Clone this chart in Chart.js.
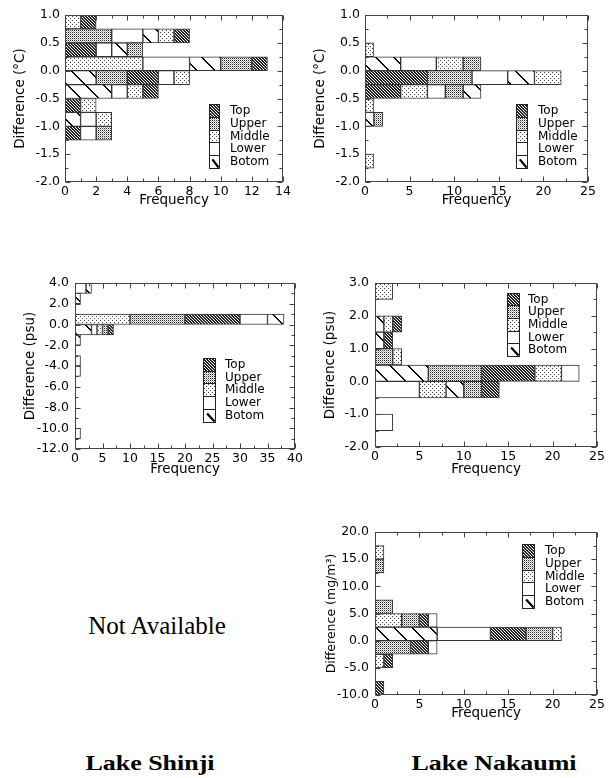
<!DOCTYPE html>
<html><head><meta charset="utf-8">
<script src="https://cdn.jsdelivr.net/npm/chart.js@4.4.1/dist/chart.umd.min.js"></script>
<style>
html,body{margin:0;padding:0;background:#fff;}
body{width:611px;height:778px;position:relative;overflow:hidden;}
canvas{position:absolute;}
.lbl{position:absolute;font-family:"Liberation Serif","Times New Roman",serif;color:#000;white-space:nowrap;}
</style></head><body>
<canvas id="c1" width="300" height="215" style="left:0;top:0;width:300px;height:215px"></canvas>
<canvas id="c2" width="311" height="215" style="left:300px;top:0;width:311px;height:215px"></canvas>
<canvas id="c3" width="320" height="240" style="left:0;top:240px;width:320px;height:240px"></canvas>
<canvas id="c4" width="311" height="240" style="left:300px;top:240px;width:311px;height:240px"></canvas>
<canvas id="c5" width="311" height="245" style="left:300px;top:480px;width:311px;height:245px"></canvas>
<div class="lbl" id="na" style="left:157px;top:626px;font-size:25px;transform:translate(-50%,-50%)">Not Available</div>
<div class="lbl" style="left:150px;top:763px;font-size:22px;font-weight:bold;transform:translate(-50%,-50%) scaleX(1.18)">Lake Shinji</div>
<div class="lbl" style="left:494px;top:763px;font-size:22px;font-weight:bold;transform:translate(-50%,-50%) scaleX(1.18)">Lake Nakaumi</div>
<script>
// ---------- layer names ----------
const layerNames = ['Top', 'Upper', 'Middle', 'Lower', 'Botom'];
const layerKeys  = ['T', 'U', 'M', 'L', 'B'];

// ---------- Panel 1: Temperature, Lake Shinji (bins from top) ----------
const tempShinjiBins = ['0.75–1.00','0.50–0.75','0.25–0.50','0.00–0.25','-0.25–0.00','-0.50–-0.25','-0.75–-0.50','-1.00–-0.75','-1.25–-1.00','-1.50–-1.25','-1.75–-1.50','-2.00–-1.75'];
const tempShinjiTop    = [1,1,2,1,2,1,1,0,1,0,0,0];
const tempShinjiUpper  = [0,3,1,2,2,0,0,0,1,0,0,0];
const tempShinjiMiddle = [1,1,0,5,1,1,1,1,0,0,0,0];
const tempShinjiLower  = [0,2,1,3,1,1,0,1,1,0,0,0];
const tempShinjiBotom  = [0,1,1,2,2,3,0,1,0,0,0,0];
const tempShinjiOrder  = ['MT','ULBMT','TLBU','MLBUT','BUTLM','BLMT','TM','BLM','TLU','','',''];

// ---------- Panel 2: Temperature, Lake Nakaumi ----------
const tempNakaumiBins = tempShinjiBins.slice();
const tempNakaumiTop    = [0,0,0,0,7,4,0,0,0,0,0,0];
const tempNakaumiUpper  = [0,0,0,2,5,2,0,1,0,0,0,0];
const tempNakaumiMiddle = [0,0,1,3,3,3,1,0,0,0,1,0];
const tempNakaumiLower  = [0,0,0,4,4,2,0,0,0,0,0,0];
const tempNakaumiBotom  = [0,0,0,4,3,2,0,1,0,0,0,0];
const tempNakaumiOrder  = ['','','M','BLMU','TULBM','TMLUB','M','BU','','','M',''];

// ---------- Panel 3: Salinity, Lake Shinji ----------
const salShinjiBins = ['3–4','2–3','1–2','0–1','-1–0','-2–-1','-3–-2','-4–-3','-5–-4','-6–-5','-7–-6','-8–-7','-9–-8','-10–-9','-11–-10','-12–-11'];
const salShinjiTop    = [0,0,0,10,1,0,0,0,0,0,0,0,0,0,0,0];
const salShinjiUpper  = [0,0,0,10,1,0,0,0,0,0,0,0,0,0,0,0];
const salShinjiMiddle = [0,0,0,10,1,0,0,0,0,0,0,0,0,0,0,0];
const salShinjiLower  = [2,0,0,5,1,0,0,1,1,0,0,0,0,0,1,0];
const salShinjiBotom  = [1,1,0,3,3,1,0,0,0,0,0,0,0,0,0,0];
const salShinjiOrder  = ['LB','B','','MUTLB','BLMUT','B','','L','L','','','','','','L',''];

// ---------- Panel 4: Salinity, Lake Nakaumi ----------
const salNakaumiBins = ['2.5–3.0','2.0–2.5','1.5–2.0','1.0–1.5','0.5–1.0','0.0–0.5','-0.5–0.0','-1.0–-0.5','-1.5–-1.0','-2.0–-1.5'];
const salNakaumiTop    = [0,0,1,1,0,6,2,0,0,0];
const salNakaumiUpper  = [0,0,0,0,2,6,2,0,0,0];
const salNakaumiMiddle = [2,0,1,0,1,3,3,0,0,0];
const salNakaumiLower  = [0,0,0,0,0,2,5,0,2,0];
const salNakaumiBotom  = [0,0,1,1,0,6,2,0,0,0];
const salNakaumiOrder  = ['M','','BMT','BT','UM','BUTML','LMBUT','','L',''];

// ---------- Panel 5: Chlorophyll, Lake Nakaumi ----------
const chlNakaumiBins = ['17.5–20.0','15.0–17.5','12.5–15.0','10.0–12.5','7.5–10.0','5.0–7.5','2.5–5.0','0.0–2.5','-2.5–0.0','-5.0–-2.5','-7.5–-5.0','-10.0–-7.5'];
const chlNakaumiTop    = [0,0,0,0,0,0,1,4,2,1,0,1];
const chlNakaumiUpper  = [0,0,1,0,0,2,2,3,4,0,0,0];
const chlNakaumiMiddle = [0,1,0,0,0,0,3,1,0,1,0,0];
const chlNakaumiLower  = [0,0,0,0,0,0,1,6,1,0,0,0];
const chlNakaumiBotom  = [0,0,0,0,0,0,0,7,0,0,0,0];
const chlNakaumiOrder  = ['','M','U','','','U','MUTL','BLTUM','UTL','MT','','T'];

// ---------- axis ranges / tick steps ----------
const xMaxes  = [14, 25, 40, 25, 25];
const xSteps  = [2, 5, 5, 5, 5];
const yRanges = [[-2, 1], [-2, 1], [-12, 4], [-2, 3], [-10, 20]];
const ySteps  = [0.5, 0.5, 2, 1, 5];
const yTitles = ['Difference (°C)', 'Difference (°C)', 'Difference (psu)', 'Difference (psu)', 'Difference (mg/m³)'];
const xTitle  = 'Frequency';

// ---------- patterns ----------
function tile(size, fn) {
  const c = document.createElement('canvas');
  c.width = c.height = size;
  const g = c.getContext('2d');
  g.fillStyle = '#fff'; g.fillRect(0, 0, size, size);
  for (let y = 0; y < size; y++) for (let x = 0; x < size; x++) {
    const col = fn(x, y);
    if (col) { g.fillStyle = col; g.fillRect(x, y, 1, 1); }
  }
  return c.getContext('2d').createPattern(c, 'repeat');
}
const fills = {
  T: tile(3, (x, y) => (((x - y) % 3 + 3) % 3) < 2 ? '#222' : null),
  U: tile(2, (x, y) => (x === 0 && y === 0) ? '#222' : (x === 1 && y === 1 ? '#aaa' : null)),
  M: tile(4, (x, y) => ((x === 0 && y === 0) || (x === 2 && y === 2)) ? '#444' : null),
  L: '#ffffff',
  B: tile(18, (x, y) => { const d = ((x - y) % 18 + 18) % 18; return (d === 0 || d === 1) ? '#000' : null; })
};

function floating(counts, order) {
  const out = {};
  layerKeys.forEach(k => out[k] = order.map(() => null));
  order.forEach((ord, i) => {
    let acc = 0;
    for (const k of ord) { const c = counts[k][i]; out[k][i] = [acc, acc + c]; acc += c; }
  });
  return out;
}

const frameTicks = {
  id: 'frameTicks',
  afterDatasetsDraw(chart, args, o) {
    const ctx = chart.ctx, a = chart.chartArea;
    const xs = chart.scales.x, ys = chart.scales.yv;
    ctx.save();
    ctx.strokeStyle = '#444'; ctx.lineWidth = 1;
    const L = Math.round(a.left) + 0.5, R = Math.round(a.right) - 0.5, T = Math.round(a.top) + 0.5, B = Math.round(a.bottom) - 0.5;
    ctx.strokeRect(L, T, R - L, B - T);
    ctx.beginPath();
    const xs2 = o.xStep / 2;
    for (let v = xs.min; v <= xs.max + 1e-9; v += xs2) {
      const p = Math.round(xs.getPixelForValue(v)) + 0.5;
      const major = Math.abs(v / o.xStep - Math.round(v / o.xStep)) < 1e-6;
      const len = major ? 5 : 3;
      ctx.moveTo(p, B); ctx.lineTo(p, B - len);
      ctx.moveTo(p, T); ctx.lineTo(p, T + len);
    }
    const ys2 = o.yStep / 2;
    for (let v = ys.min; v <= ys.max + 1e-9; v += ys2) {
      const p = Math.round(ys.getPixelForValue(v)) + 0.5;
      const major = Math.abs(v / o.yStep - Math.round(v / o.yStep)) < 1e-6;
      const len = major ? 5 : 3;
      ctx.moveTo(L, p); ctx.lineTo(L + len, p);
      ctx.moveTo(R, p); ctx.lineTo(R - len, p);
    }
    ctx.stroke();
    // legend
    const lg = o.legend;
    ctx.font = '12px "DejaVu Sans"';
    ctx.textBaseline = 'middle'; ctx.textAlign = 'left';
    layerKeys.forEach((k, i) => {
      const y = Math.round(lg.sy + i * lg.sh) + 0.5;
      const h = Math.round(lg.sh);
      const x = Math.round(lg.sx) + 0.5;
      if (k === 'B') {
        ctx.fillStyle = '#fff'; ctx.fillRect(x, y, lg.sw, h);
        ctx.save(); ctx.lineWidth = 2.2; ctx.strokeStyle = '#000';
        ctx.beginPath(); ctx.moveTo(x + lg.sw * 0.3, y + h * 0.3); ctx.lineTo(x + lg.sw - 1, y + h - 1); ctx.stroke(); ctx.restore();
      } else {
        ctx.fillStyle = fills[k]; ctx.fillRect(x, y, lg.sw, h);
      }
      ctx.strokeStyle = '#222'; ctx.lineWidth = 1;
      ctx.strokeRect(x, y, lg.sw, h);
      ctx.fillStyle = '#000';
      ctx.fillText(layerNames[i], lg.tx, y + h / 2);
    });
    ctx.restore();
  }
};

function makeChart(id, idx, bins, counts, order, lay, legend) {
  const fl = floating(counts, order);
  const datasets = layerKeys.map((k, i) => ({
    label: layerNames[i],
    data: fl[k],
    backgroundColor: fills[k],
    borderColor: '#333',
    borderWidth: 1,
    borderSkipped: false,
    grouped: false,
    barPercentage: 1,
    categoryPercentage: 1,
    xAxisID: 'x',
    yAxisID: 'y'
  }));
  const tickFont = { family: 'DejaVu Sans', size: 12.5 };
  const titleFont = { family: 'DejaVu Sans', size: lay.yTitleSize || 13.5 };
  return new Chart(document.getElementById(id), {
    type: 'bar',
    data: { labels: bins, datasets },
    options: {
      indexAxis: 'y',
      responsive: false,
      animation: false,
      devicePixelRatio: 1,
      layout: { padding: { left: 0, top: lay.padTop, right: lay.padRight, bottom: 0 } },
      plugins: {
        legend: { display: false },
        tooltip: { enabled: false },
        frameTicks: { xStep: xSteps[idx], yStep: ySteps[idx], legend }
      },
      scales: {
        y: { type: 'category', display: false, offset: true },
        yv: {
          type: 'linear', axis: 'y', position: 'left', offset: false,
          min: yRanges[idx][0], max: yRanges[idx][1],
          grid: { display: false, drawTicks: false, offset: false },
          border: { display: false },
          ticks: { stepSize: ySteps[idx], font: tickFont, color: '#000', padding: lay.yTickPad,
                   callback: v => (Math.abs(v) < 1e-9 ? 0 : v).toFixed(1) },
          title: { display: true, text: yTitles[idx], font: titleFont, color: '#000', padding: { top: lay.yTitlePad, bottom: 0 } },
          afterFit: s => { s.width = lay.yW; s.paddingTop = 0; s.paddingBottom = 0; }
        },
        x: {
          type: 'linear', position: 'bottom', min: 0, max: xMaxes[idx], offset: false,
          grid: { display: false, drawTicks: false },
          border: { display: false },
          ticks: { stepSize: xSteps[idx], font: tickFont, color: '#000', padding: 2, maxRotation: 0, autoSkip: false },
          title: { display: true, text: xTitle, font: { family: 'DejaVu Sans', size: 13.5 }, color: '#000', padding: { top: 0, bottom: lay.xTitlePad } },
          afterFit: s => { s.height = lay.xH; s.paddingLeft = 0; s.paddingRight = 0; }
        }
      }
    },
    plugins: [frameTicks]
  });
}

makeChart('c1', 0, tempShinjiBins,
  { T: tempShinjiTop, U: tempShinjiUpper, M: tempShinjiMiddle, L: tempShinjiLower, B: tempShinjiBotom }, tempShinjiOrder,
  { padTop: 15, padRight: 17, yW: 65, xH: 33, yTickPad: 5, yTitlePad: 12, xTitlePad: 6 },
  { sx: 209, sy: 104, sw: 10, sh: 12.8, tx: 230 });

makeChart('c2', 1, tempNakaumiBins,
  { T: tempNakaumiTop, U: tempNakaumiUpper, M: tempNakaumiMiddle, L: tempNakaumiLower, B: tempNakaumiBotom }, tempNakaumiOrder,
  { padTop: 15, padRight: 23, yW: 65, xH: 33, yTickPad: 5, yTitlePad: 12, xTitlePad: 6 },
  { sx: 216, sy: 104, sw: 11, sh: 12.8, tx: 238 });

makeChart('c3', 2, salShinjiBins,
  { T: salShinjiTop, U: salShinjiUpper, M: salShinjiMiddle, L: salShinjiLower, B: salShinjiBotom }, salShinjiOrder,
  { padTop: 43, padRight: 25, yW: 75, xH: 31, yTickPad: 6, yTitlePad: 22, xTitlePad: 2 },
  { sx: 203, sy: 118, sw: 12, sh: 12.7, tx: 225 });

makeChart('c4', 3, salNakaumiBins,
  { T: salNakaumiTop, U: salNakaumiUpper, M: salNakaumiMiddle, L: salNakaumiLower, B: salNakaumiBotom }, salNakaumiOrder,
  { padTop: 43, padRight: 14, yW: 75, xH: 33, yTickPad: 6, yTitlePad: 22, xTitlePad: 2 },
  { sx: 207, sy: 52.7, sw: 12, sh: 12.6, tx: 228 });

makeChart('c5', 4, chlNakaumiBins,
  { T: chlNakaumiTop, U: chlNakaumiUpper, M: chlNakaumiMiddle, L: chlNakaumiLower, B: chlNakaumiBotom }, chlNakaumiOrder,
  { padTop: 52, padRight: 14, yW: 75, xH: 30, yTickPad: 6, yTitlePad: 24, xTitlePad: 3, yTitleSize: 12.5 },
  { sx: 222, sy: 64.3, sw: 12, sh: 12.6, tx: 245 });
</script>
</body></html>
